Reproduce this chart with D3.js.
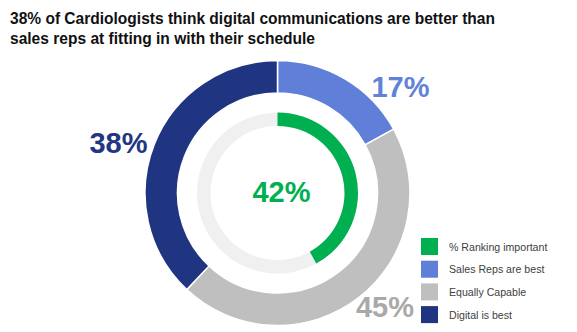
<!DOCTYPE html>
<html>
<head>
<meta charset="utf-8">
<script src="https://cdn.jsdelivr.net/npm/d3@7"></script>
<style>
  html, body { margin: 0; padding: 0; background: #fff; }
  svg { display: block; font-family: "Liberation Sans", Arial, sans-serif; }
</style>
</head>
<body>
<svg id="chart" width="577" height="332"></svg>
<script>
// Survey shares (percent)
const titleLines = [
  "38% of Cardiologists think digital communications are better than",
  "sales reps at fitting in with their schedule"
];
const titleWidths = [485, 305];
const outerCategories = ["Sales Reps are best", "Equally Capable", "Digital is best"];
const outerValues = [17, 45, 38];
const innerCategory = "% Ranking important";
const innerValue = 42;
const legendLabels = ["% Ranking important", "Sales Reps are best", "Equally Capable", "Digital is best"];
const colors = {
  "% Ranking important": "#00b050",
  "Sales Reps are best": "#5f7fd8",
  "Equally Capable": "#bfbfbf",
  "Digital is best": "#203581"
};
const labelColors = {
  "Sales Reps are best": "#6282d8",
  "Equally Capable": "#a9a9a9",
  "Digital is best": "#223684"
};

const svg = d3.select("#chart");

// Title, set slightly condensed
svg.append("g").selectAll("text").data(titleLines).join("text")
  .attr("x", 10).attr("y", (d, i) => 24 + i * 20)
  .attr("font-size", 17).attr("font-weight", "bold").attr("fill", "#111")
  .attr("textLength", (d, i) => titleWidths[i])
  .attr("lengthAdjust", "spacingAndGlyphs")
  .text(d => d);

const cx = 277.5, cy = 193;
const g = svg.append("g").attr("transform", `translate(${cx},${cy})`);

// Outer ring: shares of preference
const pie = d3.pie().sort(null).value(d => d.value);
const outerData = pie(outerCategories.map((c, i) => ({ cat: c, value: outerValues[i] })));
const outerArc = d3.arc().innerRadius(100).outerRadius(132.5);
g.selectAll("path.outer").data(outerData).join("path")
  .attr("class", "outer")
  .attr("d", outerArc)
  .attr("fill", d => colors[d.data.cat])
  .attr("stroke", "#fff").attr("stroke-width", 1.5);

// Inner ring: track plus importance share
const angle = d3.scaleLinear().domain([0, 100]).range([0, 2 * Math.PI]);
const innerArc = d3.arc().innerRadius(67).outerRadius(80.5);
g.append("path")
  .attr("d", innerArc({ startAngle: 0, endAngle: 2 * Math.PI }))
  .attr("fill", "#f0f0f0");
g.append("path")
  .attr("d", innerArc({ startAngle: angle(0), endAngle: angle(innerValue) }))
  .attr("fill", colors[innerCategory]);

// Value labels
const labelPos = {
  "Sales Reps are best": [400.5, 97],
  "Equally Capable": [385, 317],
  "Digital is best": [118.5, 153]
};
outerData.forEach(d => {
  const p = labelPos[d.data.cat];
  svg.append("text")
    .attr("x", p[0]).attr("y", p[1])
    .attr("text-anchor", "middle")
    .attr("font-size", 29).attr("font-weight", "bold")
    .attr("fill", labelColors[d.data.cat])
    .text(d.data.value + "%");
});
svg.append("text")
  .attr("x", 281.5).attr("y", 202)
  .attr("text-anchor", "middle")
  .attr("font-size", 29).attr("font-weight", "bold")
  .attr("fill", colors[innerCategory])
  .text(innerValue + "%");

// Legend
const legend = svg.append("g").attr("transform", "translate(421,238)");
const rows = legend.selectAll("g").data(legendLabels).join("g")
  .attr("transform", (d, i) => `translate(0,${i * 22.7})`);
rows.append("rect")
  .attr("width", 17).attr("height", 17)
  .attr("fill", d => colors[d]);
rows.append("text")
  .attr("x", 28).attr("y", 12.5)
  .attr("font-size", 10.6).attr("fill", "#404040")
  .text(d => d);
</script>
</body>
</html>
